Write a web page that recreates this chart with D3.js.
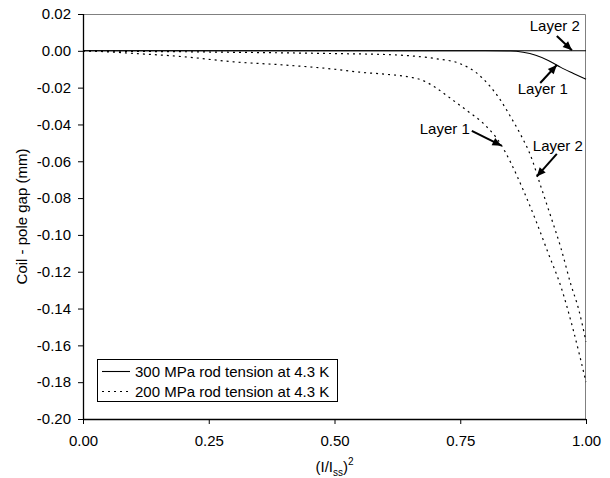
<!DOCTYPE html>
<html>
<head>
<meta charset="utf-8">
<script src="https://cdn.jsdelivr.net/npm/d3@7"></script>
<style>
  body { margin: 0; background: #fff; }
  svg { display: block; }
  text { font-family: "Liberation Sans", Arial, Helvetica, sans-serif; fill: #000; }
</style>
</head>
<body>
<svg id="chart" width="610" height="478"></svg>
<script>
// Axis ticks
const xTicks = [0, 0.25, 0.5, 0.75, 1.0];
const yTicks = [0.02, 0, -0.02, -0.04, -0.06, -0.08, -0.10, -0.12, -0.14, -0.16, -0.18, -0.20];

// Legend entries
const legendLabels = ["300 MPa rod tension at 4.3 K", "200 MPa rod tension at 4.3 K"];

// 300 MPa rod tension, layer 1 (solid)
const rod300Layer1X = [0, 0.80, 0.85, 0.875, 0.90, 0.925, 0.95, 0.975, 1.0];
const rod300Layer1Y = [0, 0, -0.0001, -0.0008, -0.0024, -0.0052, -0.0090, -0.0123, -0.0155];

// 300 MPa rod tension, layer 2 (solid)
const rod300Layer2X = [0, 0.5, 1.0];
const rod300Layer2Y = [0, 0, 0];

// 200 MPa rod tension, layer 1 (dotted)
const rod200Layer1X = [0, 0.03, 0.1, 0.2, 0.3, 0.4, 0.5, 0.55, 0.6, 0.65, 0.675, 0.70, 0.73, 0.76, 0.80, 0.83, 0.85, 0.875, 0.90, 0.925, 0.95, 0.975, 1.0];
const rod200Layer1Y = [0, -0.0003, -0.0014, -0.0032, -0.0060, -0.0077, -0.0100, -0.0116, -0.0127, -0.0143, -0.0160, -0.0198, -0.0257, -0.0318, -0.0405, -0.0505, -0.0605, -0.0755, -0.0920, -0.1100, -0.1280, -0.1520, -0.1800];

// 200 MPa rod tension, layer 2 (dotted)
const rod200Layer2X = [0, 0.1, 0.2, 0.3, 0.4, 0.5, 0.6, 0.65, 0.70, 0.75, 0.78, 0.81, 0.83, 0.85, 0.87, 0.89, 0.91, 0.93, 0.95, 0.97, 0.985, 1.0];
const rod200Layer2Y = [0, -0.0003, -0.0005, -0.0008, -0.0011, -0.0015, -0.0020, -0.0027, -0.0042, -0.0070, -0.0115, -0.0195, -0.0268, -0.0358, -0.0455, -0.0570, -0.0735, -0.0900, -0.1070, -0.1270, -0.1400, -0.1580];

// Callout labels: text anchor, arrow tail and arrow tip in data units
const calloutLabels  = ["Layer 2", "Layer 1", "Layer 1", "Layer 2"];
const calloutAnchors = ["middle", "middle", "end", "middle"];
const calloutTextX   = [0.938, 0.914, 0.769, 0.944];
const calloutTextY   = [0.0105, -0.0235, -0.0452, -0.0542];
const calloutTailX   = [0.942, 0.909, 0.773, 0.942];
const calloutTailY   = [0.0080, -0.0175, -0.0435, -0.0560];
const calloutTipX    = [0.972, 0.942, 0.832, 0.902];
const calloutTipY    = [0.0003, -0.0077, -0.0515, -0.0683];

const W = 610, H = 478;
const margin = { top: 14, right: 24, bottom: 59, left: 83 };
const iw = W - margin.left - margin.right;
const ih = H - margin.top - margin.bottom;

const svg = d3.select("#chart");
const g = svg.append("g").attr("transform", `translate(${margin.left},${margin.top})`);

const x = d3.scaleLinear().domain([0, 1]).range([0, iw]);
const y = d3.scaleLinear().domain([-0.2, 0.02]).range([ih, 0]);

const fmt = d => (Math.abs(d) < 1e-9 ? 0 : d).toFixed(2);

// Plot area frame (top and right edges in grey)
g.append("path")
  .attr("d", `M0,0.5H${iw - 0.5}V${ih}`)
  .attr("fill", "none")
  .attr("stroke", "#808080")
  .attr("stroke-width", 1);

// Axes
const yAxis = g.append("g")
  .call(d3.axisLeft(y).tickValues(yTicks).tickFormat(fmt).tickSize(5).tickPadding(7));
const xAxis = g.append("g")
  .attr("transform", `translate(0,${ih})`)
  .call(d3.axisBottom(x).tickValues(xTicks).tickFormat(fmt).tickSize(5).tickPadding(11));

[yAxis, xAxis].forEach(a => {
  a.select(".domain").attr("stroke", "#000").attr("stroke-width", 1.3);
  a.selectAll(".tick line").attr("stroke", "#000");
  a.selectAll(".tick text").attr("font-size", 15).attr("fill", "#000")
    .style("font-family", "'Liberation Sans', Arial, sans-serif");
  a.attr("font-size", null).attr("font-family", null);
});
// remove outer tick caps of the domain path
yAxis.select(".domain").attr("d", `M0.5,0V${ih}`);
xAxis.select(".domain").attr("d", `M0,0.5H${iw}`);

// Curves
const line = d3.line()
  .x(d => x(d[0]))
  .y(d => y(d[1]))
  .curve(d3.curveMonotoneX);

const zipXY = (xs, ys) => xs.map((v, i) => [v, ys[i]]);

const curves = [
  { pts: zipXY(rod200Layer2X, rod200Layer2Y), dash: "2,4" },
  { pts: zipXY(rod200Layer1X, rod200Layer1Y), dash: "2,4" },
  { pts: zipXY(rod300Layer2X, rod300Layer2Y), dash: null },
  { pts: zipXY(rod300Layer1X, rod300Layer1Y), dash: null }
];

g.selectAll("path.curve")
  .data(curves)
  .join("path")
  .attr("class", "curve")
  .attr("d", d => line(d.pts))
  .attr("fill", "none")
  .attr("stroke", "#000")
  .attr("stroke-width", d => d.dash ? 1.2 : 1.1)
  .attr("stroke-dasharray", d => d.dash);

// Arrowhead marker
svg.append("defs").append("marker")
  .attr("id", "arrowhead")
  .attr("viewBox", "-10 -5 11 10")
  .attr("refX", 0)
  .attr("refY", 0)
  .attr("markerWidth", 11)
  .attr("markerHeight", 10)
  .attr("markerUnits", "userSpaceOnUse")
  .attr("orient", "auto")
  .append("path")
  .attr("d", "M0,0L-9,-4L-9,4Z")
  .attr("fill", "#000");

// Callouts
const callouts = calloutLabels.map((t, i) => ({
  text: t, anchor: calloutAnchors[i],
  tx: calloutTextX[i], ty: calloutTextY[i],
  x1: calloutTailX[i], y1: calloutTailY[i],
  x2: calloutTipX[i], y2: calloutTipY[i]
}));

g.selectAll("line.callout")
  .data(callouts)
  .join("line")
  .attr("class", "callout")
  .attr("x1", d => x(d.x1)).attr("y1", d => y(d.y1))
  .attr("x2", d => x(d.x2)).attr("y2", d => y(d.y2))
  .attr("stroke", "#000")
  .attr("stroke-width", 2)
  .attr("marker-end", "url(#arrowhead)");

g.selectAll("text.callout")
  .data(callouts)
  .join("text")
  .attr("class", "callout")
  .attr("x", d => x(d.tx)).attr("y", d => y(d.ty))
  .attr("text-anchor", d => d.anchor)
  .attr("font-size", 15)
  .text(d => d.text);

// Legend
const legend = g.append("g").attr("transform", "translate(14,345)");
legend.append("rect")
  .attr("x", 0.5).attr("y", 0.5)
  .attr("width", 240).attr("height", 42)
  .attr("fill", "#fff")
  .attr("stroke", "#000")
  .attr("stroke-width", 1);
const legendDash = [null, "2,4"];
legendLabels.forEach((lab, i) => {
  const cy = 12.5 + i * 20;
  legend.append("line")
    .attr("x1", 5).attr("x2", 33)
    .attr("y1", cy).attr("y2", cy)
    .attr("stroke", "#000")
    .attr("stroke-width", 1.1)
    .attr("stroke-dasharray", legendDash[i]);
  legend.append("text")
    .attr("x", 38).attr("y", cy)
    .attr("dy", "0.35em")
    .attr("font-size", 15)
    .text(lab);
});

// Axis titles
g.append("text")
  .attr("transform", `translate(${27 - margin.left},${ih / 2}) rotate(-90)`)
  .attr("text-anchor", "middle")
  .attr("font-size", 15)
  .text("Coil - pole gap (mm)");

const xTitle = g.append("text")
  .attr("x", iw / 2)
  .attr("y", 472 - margin.top)
  .attr("text-anchor", "middle")
  .attr("font-size", 15);
xTitle.append("tspan").text("(I/I");
xTitle.append("tspan").attr("font-size", 10).attr("dy", 4).text("ss");
xTitle.append("tspan").attr("dy", -4).text(")");
xTitle.append("tspan").attr("font-size", 10).attr("dy", -7).text("2");
</script>
</body>
</html>
